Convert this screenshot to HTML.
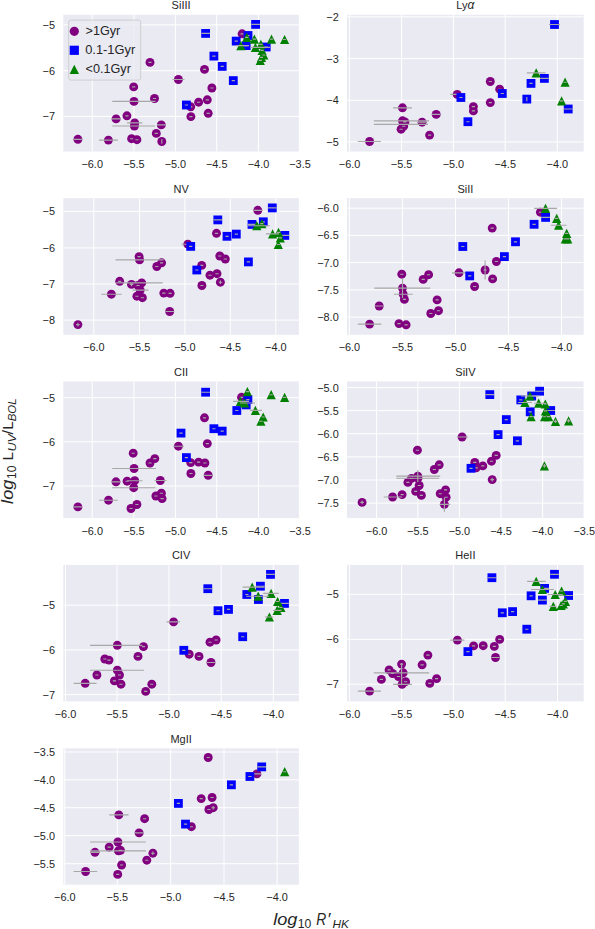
<!DOCTYPE html><html><head><meta charset="utf-8"><title>chart</title><style>html,body{margin:0;padding:0;background:#fff}svg{display:block}text{font-family:"Liberation Sans",sans-serif;fill:#262626}</style></head><body>
<svg width="595" height="929" viewBox="0 0 595 929">
<rect width="595" height="929" fill="#fff"/>
<clipPath id="c0"><rect x="63.3" y="14.8" width="235.6" height="136.7"/></clipPath>
<rect x="63.3" y="14.8" width="235.6" height="136.7" fill="#eaeaf2"/>
<g clip-path="url(#c0)">
<path d="M92.2 14.8V151.5M133.9 14.8V151.5M175.4 14.8V151.5M216.7 14.8V151.5M258.5 14.8V151.5M300.0 14.8V151.5M63.3 24.9H298.9M63.3 70.7H298.9M63.3 116.4H298.9" stroke="#fff" stroke-width="1" fill="none"/>
<g fill="#800080"><circle cx="150.0" cy="62.4" r="4.45"/><circle cx="178.4" cy="79.5" r="4.45"/><circle cx="133.7" cy="86.9" r="4.45"/><circle cx="154.5" cy="98.5" r="4.45"/><circle cx="134.0" cy="101.4" r="4.45"/><circle cx="126.9" cy="115.8" r="4.45"/><circle cx="116.1" cy="118.9" r="4.45"/><circle cx="134.7" cy="122.9" r="4.45"/><circle cx="134.4" cy="126.0" r="4.45"/><circle cx="161.3" cy="124.9" r="4.45"/><circle cx="156.3" cy="133.4" r="4.45"/><circle cx="77.9" cy="139.3" r="4.45"/><circle cx="108.4" cy="140.1" r="4.45"/><circle cx="131.6" cy="138.7" r="4.45"/><circle cx="136.9" cy="139.7" r="4.45"/><circle cx="161.8" cy="141.5" r="4.45"/><circle cx="204.5" cy="69.4" r="4.45"/><circle cx="211.9" cy="88.0" r="4.45"/><circle cx="207.3" cy="99.8" r="4.45"/><circle cx="198.6" cy="102.2" r="4.45"/><circle cx="190.7" cy="106.8" r="4.45"/><circle cx="208.2" cy="113.3" r="4.45"/><circle cx="190.9" cy="116.6" r="4.45"/><circle cx="242.1" cy="33.8" r="4.45"/></g>
<path d="M148.4 62.4H151.6M172.5 79.5H184.5M132.1 86.9H135.3M152.9 98.5H156.1M112.2 101.4H155.5M125.3 115.8H128.5M111.8 118.9H120.4M127.0 122.9H142.3M112.2 126.0H155.1M157.0 124.9H165.6M154.7 133.4H157.9M73.6 139.3H82.2M99.0 140.1H117.8M130.0 138.7H133.2M135.3 139.7H138.5M161.8 139.3V143.7M202.9 69.4H206.1M210.3 88.0H213.5M205.7 99.8H208.9M197.0 102.2H200.2M189.1 106.8H192.3M206.6 113.3H209.8M189.3 116.6H192.5M240.5 33.8H243.7" stroke="#a8a8a8" stroke-width="1.15" fill="none"/>
<g fill="#0000ff"><rect x="201.2" y="29.0" width="8.8" height="8.8"/><rect x="251.2" y="20.0" width="8.8" height="8.8"/><rect x="209.5" y="51.7" width="8.8" height="8.8"/><rect x="217.8" y="62.0" width="8.8" height="8.8"/><rect x="228.9" y="76.2" width="8.8" height="8.8"/><rect x="182.0" y="100.6" width="8.8" height="8.8"/><rect x="231.8" y="36.7" width="8.8" height="8.8"/><rect x="243.6" y="31.1" width="8.8" height="8.8"/><rect x="241.8" y="41.2" width="8.8" height="8.8"/><rect x="261.8" y="42.6" width="8.8" height="8.8"/></g>
<path d="M201.3 33.4H209.9M251.3 24.4H259.9M212.3 56.1H215.5M220.6 66.4H223.8M231.7 80.6H234.9M184.8 105.0H188.0M234.6 41.1H237.8M246.4 35.5H249.6M244.6 45.6H247.8M264.6 47.0H267.8" stroke="#a8a8a8" stroke-width="1.15" fill="none"/>
<g fill="#008000"><path d="M246.8 32.8L251.4 42.0H242.2Z"/><path d="M240.9 41.0L245.5 50.2H236.3Z"/><path d="M254.4 34.5L259.0 43.7H249.8Z"/><path d="M255.4 42.8L260.0 52.0H250.8Z"/><path d="M260.9 39.8L265.5 49.0H256.3Z"/><path d="M262.1 45.7L266.7 54.9H257.5Z"/><path d="M263.8 50.4L268.4 59.6H259.2Z"/><path d="M261.5 52.8L266.1 62.0H256.9Z"/><path d="M260.3 55.7L264.9 64.9H255.7Z"/><path d="M271.5 34.5L276.1 43.7H266.9Z"/><path d="M284.6 34.9L289.2 44.1H280.0Z"/></g>
<path d="M245.2 37.4H248.4M236 45.6H249M252.8 39.1H256.0M250.5 47.4H270M259.3 44.4H262.5M260.5 50.3H263.7M262.2 55.0H265.4M259.9 57.4H263.1M258.7 60.3H261.9M269.9 39.1H273.1M283.0 39.5H286.2" stroke="#a8a8a8" stroke-width="1.15" fill="none"/>
</g>
<text x="181.1" y="9.2" font-size="11" text-anchor="middle">SiIII</text>
<text x="92.2" y="168.1" font-size="10.9" text-anchor="middle">−6.0</text>
<text x="133.9" y="168.1" font-size="10.9" text-anchor="middle">−5.5</text>
<text x="175.4" y="168.1" font-size="10.9" text-anchor="middle">−5.0</text>
<text x="216.7" y="168.1" font-size="10.9" text-anchor="middle">−4.5</text>
<text x="258.5" y="168.1" font-size="10.9" text-anchor="middle">−4.0</text>
<text x="300.0" y="168.1" font-size="10.9" text-anchor="middle">−3.5</text>
<text x="55.0" y="28.9" font-size="10.9" text-anchor="end">−5</text>
<text x="55.0" y="74.7" font-size="10.9" text-anchor="end">−6</text>
<text x="55.0" y="120.4" font-size="10.9" text-anchor="end">−7</text>
<clipPath id="c1"><rect x="347.0" y="14.8" width="236.7" height="136.7"/></clipPath>
<rect x="347.0" y="14.8" width="236.7" height="136.7" fill="#eaeaf2"/>
<g clip-path="url(#c1)">
<path d="M349.6 14.8V151.5M401.6 14.8V151.5M453.4 14.8V151.5M505.2 14.8V151.5M557.3 14.8V151.5M347.0 16.8H583.7M347.0 58.6H583.7M347.0 100.3H583.7M347.0 141.9H583.7" stroke="#fff" stroke-width="1" fill="none"/>
<g fill="#800080"><circle cx="369.6" cy="141.5" r="4.45"/><circle cx="402.5" cy="107.8" r="4.45"/><circle cx="402.5" cy="120.8" r="4.45"/><circle cx="404.9" cy="121.9" r="4.45"/><circle cx="403.2" cy="124.3" r="4.45"/><circle cx="403.7" cy="126.2" r="4.45"/><circle cx="401.1" cy="129.2" r="4.45"/><circle cx="422.1" cy="122.2" r="4.45"/><circle cx="436.2" cy="114.4" r="4.45"/><circle cx="429.6" cy="135.1" r="4.45"/><circle cx="457.2" cy="94.4" r="4.45"/><circle cx="473.4" cy="106.6" r="4.45"/><circle cx="473.4" cy="110.9" r="4.45"/><circle cx="490.3" cy="81.5" r="4.45"/><circle cx="499.7" cy="89.2" r="4.45"/><circle cx="490.3" cy="102.6" r="4.45"/></g>
<path d="M357.8 141.5H380.9M393.1 107.8H411.9M373.8 120.8H429.1M403.3 121.9H406.5M373.8 124.3H428.0M402.1 126.2H405.3M399.5 129.2H402.7M417.8 122.2H426.4M431.9 114.4H440.5M428.0 135.1H431.2M450.3 94.4H464.4M471.8 106.6H475.0M471.8 110.9H475.0M488.7 81.5H491.9M498.1 89.2H501.3M488.7 102.6H491.9" stroke="#a8a8a8" stroke-width="1.15" fill="none"/>
<g fill="#0000ff"><rect x="456.5" y="93.1" width="8.8" height="8.8"/><rect x="463.5" y="117.3" width="8.8" height="8.8"/><rect x="497.9" y="89.1" width="8.8" height="8.8"/><rect x="522.4" y="94.7" width="8.8" height="8.8"/><rect x="526.6" y="79.0" width="8.8" height="8.8"/><rect x="540.0" y="74.0" width="8.8" height="8.8"/><rect x="550.1" y="20.1" width="8.8" height="8.8"/><rect x="563.8" y="104.6" width="8.8" height="8.8"/></g>
<path d="M459.3 97.5H462.5M466.3 121.7H469.5M500.7 93.5H503.9M526.8 96.9V101.3M529.4 83.4H532.6M540.1 78.4H548.7M549 24.5H560M563.9 109.0H572.5" stroke="#a8a8a8" stroke-width="1.15" fill="none"/>
<g fill="#008000"><path d="M536.2 68.2L540.8 77.4H531.6Z"/><path d="M565.1 77.6L569.7 86.8H560.5Z"/><path d="M561.6 96.2L566.2 105.4H557.0Z"/></g>
<path d="M526.8 72.8H545.6M563.5 82.2H566.7M560.0 100.8H563.2" stroke="#a8a8a8" stroke-width="1.15" fill="none"/>
</g>
<text x="465.4" y="9.2" font-size="11" text-anchor="middle">Ly<tspan font-style="italic" font-size="12">α</tspan></text>
<text x="349.6" y="168.1" font-size="10.9" text-anchor="middle">−6.0</text>
<text x="401.6" y="168.1" font-size="10.9" text-anchor="middle">−5.5</text>
<text x="453.4" y="168.1" font-size="10.9" text-anchor="middle">−5.0</text>
<text x="505.2" y="168.1" font-size="10.9" text-anchor="middle">−4.5</text>
<text x="557.3" y="168.1" font-size="10.9" text-anchor="middle">−4.0</text>
<text x="338.7" y="20.8" font-size="10.9" text-anchor="end">−2</text>
<text x="338.7" y="62.6" font-size="10.9" text-anchor="end">−3</text>
<text x="338.7" y="104.3" font-size="10.9" text-anchor="end">−4</text>
<text x="338.7" y="145.9" font-size="10.9" text-anchor="end">−5</text>
<clipPath id="c2"><rect x="63.3" y="198.2" width="235.6" height="136.6"/></clipPath>
<rect x="63.3" y="198.2" width="235.6" height="136.6" fill="#eaeaf2"/>
<g clip-path="url(#c2)">
<path d="M93.8 198.2V334.8M139.5 198.2V334.8M184.9 198.2V334.8M230.3 198.2V334.8M275.8 198.2V334.8M63.3 211.4H298.9M63.3 247.9H298.9M63.3 284.0H298.9M63.3 320.1H298.9" stroke="#fff" stroke-width="1" fill="none"/>
<g fill="#800080"><circle cx="77.9" cy="324.6" r="4.45"/><circle cx="111.4" cy="294.2" r="4.45"/><circle cx="119.7" cy="281.3" r="4.45"/><circle cx="131.5" cy="284.4" r="4.45"/><circle cx="139.1" cy="256.6" r="4.45"/><circle cx="139.6" cy="259.9" r="4.45"/><circle cx="161.6" cy="262.8" r="4.45"/><circle cx="156.8" cy="266.5" r="4.45"/><circle cx="141.7" cy="282.9" r="4.45"/><circle cx="138.0" cy="285.5" r="4.45"/><circle cx="140.2" cy="290.1" r="4.45"/><circle cx="136.9" cy="296.2" r="4.45"/><circle cx="142.4" cy="297.7" r="4.45"/><circle cx="163.8" cy="293.1" r="4.45"/><circle cx="170.1" cy="293.3" r="4.45"/><circle cx="169.7" cy="311.5" r="4.45"/><circle cx="187.8" cy="244.2" r="4.45"/><circle cx="216.5" cy="233.3" r="4.45"/><circle cx="257.8" cy="210.3" r="4.45"/><circle cx="219.8" cy="256.0" r="4.45"/><circle cx="225.3" cy="259.0" r="4.45"/><circle cx="201.7" cy="265.4" r="4.45"/><circle cx="210.0" cy="275.2" r="4.45"/><circle cx="217.0" cy="273.7" r="4.45"/><circle cx="220.4" cy="282.2" r="4.45"/><circle cx="201.9" cy="285.5" r="4.45"/></g>
<path d="M76.1 324.6H79.7M77.9 322.8V326.4M101.3 294.2H121.6M118.1 281.3H121.3M129.7 284.4H133.3M131.5 282.6V286.2M137.5 256.6H140.7M115.5 259.9H163.6M160.0 262.8H163.2M155.2 266.5H158.4M116.2 282.9H162.7M136.4 285.5H139.6M132.6 290.1H148.5M135.3 296.2H138.5M140.8 297.7H144.0M162.2 293.1H165.4M168.5 293.3H171.7M165.4 311.5H174.0M181.5 244.2H193.5M214.9 233.3H218.1M253.5 210.3H262.1M218.2 256.0H221.4M223.7 259.0H226.9M200.1 265.4H203.3M208.4 275.2H211.6M215.4 273.7H218.6M218.6 282.2H222.2M220.4 280.4V284.0M200.3 285.5H203.5" stroke="#a8a8a8" stroke-width="1.15" fill="none"/>
<g fill="#0000ff"><rect x="267.9" y="203.5" width="8.8" height="8.8"/><rect x="213.4" y="215.5" width="8.8" height="8.8"/><rect x="186.3" y="242.0" width="8.8" height="8.8"/><rect x="222.6" y="231.9" width="8.8" height="8.8"/><rect x="231.9" y="229.7" width="8.8" height="8.8"/><rect x="244.0" y="257.5" width="8.8" height="8.8"/><rect x="192.4" y="265.6" width="8.8" height="8.8"/><rect x="247.6" y="220.0" width="8.8" height="8.8"/><rect x="258.9" y="217.4" width="8.8" height="8.8"/><rect x="280.4" y="231.0" width="8.8" height="8.8"/></g>
<path d="M268.0 207.9H276.6M213.5 219.9H222.1M189.1 246.4H192.3M225.4 236.3H228.6M234.7 234.1H237.9M246.8 261.9H250.0M195.2 270.0H198.4M247.7 224.4H256.3M261.7 221.8H264.9M280.5 235.4H289.1" stroke="#a8a8a8" stroke-width="1.15" fill="none"/>
<g fill="#008000"><path d="M256.8 221.1L261.4 230.3H252.2Z"/><path d="M261.8 219.0L266.4 228.2H257.2Z"/><path d="M272.6 229.2L277.2 238.4H268.0Z"/><path d="M278.5 227.7L283.1 236.9H273.9Z"/><path d="M280.3 233.3L284.9 242.5H275.7Z"/><path d="M278.3 239.9L282.9 249.1H273.7Z"/></g>
<path d="M248 225.7H270M260.2 223.6H263.4M266 233.8H279M276.9 232.3H280.1M278.7 237.9H281.9M276.7 244.5H279.9" stroke="#a8a8a8" stroke-width="1.15" fill="none"/>
</g>
<text x="181.1" y="192.6" font-size="11" text-anchor="middle">NV</text>
<text x="93.8" y="351.4" font-size="10.9" text-anchor="middle">−6.0</text>
<text x="139.5" y="351.4" font-size="10.9" text-anchor="middle">−5.5</text>
<text x="184.9" y="351.4" font-size="10.9" text-anchor="middle">−5.0</text>
<text x="230.3" y="351.4" font-size="10.9" text-anchor="middle">−4.5</text>
<text x="275.8" y="351.4" font-size="10.9" text-anchor="middle">−4.0</text>
<text x="55.0" y="215.4" font-size="10.9" text-anchor="end">−5</text>
<text x="55.0" y="251.9" font-size="10.9" text-anchor="end">−6</text>
<text x="55.0" y="288.0" font-size="10.9" text-anchor="end">−7</text>
<text x="55.0" y="324.1" font-size="10.9" text-anchor="end">−8</text>
<clipPath id="c3"><rect x="347.0" y="198.2" width="236.7" height="136.6"/></clipPath>
<rect x="347.0" y="198.2" width="236.7" height="136.6" fill="#eaeaf2"/>
<g clip-path="url(#c3)">
<path d="M349.4 198.2V334.8M402.4 198.2V334.8M455.5 198.2V334.8M508.5 198.2V334.8M561.5 198.2V334.8M347.0 208.2H583.7M347.0 235.4H583.7M347.0 262.6H583.7M347.0 289.9H583.7M347.0 317.1H583.7" stroke="#fff" stroke-width="1" fill="none"/>
<g fill="#800080"><circle cx="369.6" cy="324.1" r="4.45"/><circle cx="379.2" cy="306.0" r="4.45"/><circle cx="401.8" cy="274.2" r="4.45"/><circle cx="402.5" cy="288.1" r="4.45"/><circle cx="403.2" cy="294.2" r="4.45"/><circle cx="404.4" cy="299.4" r="4.45"/><circle cx="399.0" cy="323.6" r="4.45"/><circle cx="406.1" cy="324.8" r="4.45"/><circle cx="423.2" cy="279.4" r="4.45"/><circle cx="428.6" cy="274.7" r="4.45"/><circle cx="437.1" cy="299.9" r="4.45"/><circle cx="438.5" cy="310.7" r="4.45"/><circle cx="430.8" cy="313.5" r="4.45"/><circle cx="459.0" cy="272.8" r="4.45"/><circle cx="474.6" cy="286.5" r="4.45"/><circle cx="492.2" cy="228.1" r="4.45"/><circle cx="496.4" cy="261.5" r="4.45"/><circle cx="485.1" cy="270.0" r="4.45"/><circle cx="492.6" cy="278.9" r="4.45"/><circle cx="540.4" cy="212.2" r="4.45"/></g>
<path d="M357.8 324.1H381.4M374.9 306.0H383.5M400.2 274.2H403.4M374.3 288.1H430.3M393.8 294.2H412.6M402.8 299.4H406.0M397.4 323.6H400.6M404.5 324.8H407.7M421.6 279.4H424.8M427.0 274.7H430.2M435.5 299.9H438.7M436.9 310.7H440.1M429.2 313.5H432.4M452 272.8H465.5M473.0 286.5H476.2M490.6 228.1H493.8M494.8 261.5H498.0M483.5 270.0H486.7M491.0 278.9H494.2M538.8 212.2H542.0M402.5 278.5V298.0M485.1 260.6V279.4" stroke="#a8a8a8" stroke-width="1.15" fill="none"/>
<g fill="#0000ff"><rect x="458.4" y="242.1" width="8.8" height="8.8"/><rect x="465.3" y="271.5" width="8.8" height="8.8"/><rect x="500.0" y="252.2" width="8.8" height="8.8"/><rect x="511.1" y="237.4" width="8.8" height="8.8"/><rect x="529.7" y="219.9" width="8.8" height="8.8"/><rect x="541.2" y="213.0" width="8.8" height="8.8"/></g>
<path d="M461.2 246.5H464.4M468.1 275.9H471.3M502.8 256.6H506.0M513.9 241.8H517.1M532.5 224.3H535.7M541.3 217.4H549.9" stroke="#a8a8a8" stroke-width="1.15" fill="none"/>
<g fill="#008000"><path d="M545.5 203.7L550.1 212.9H540.9Z"/><path d="M556.7 213.8L561.3 223.0H552.1Z"/><path d="M558.6 220.6L563.2 229.8H554.0Z"/><path d="M566.7 228.7L571.3 237.9H562.1Z"/><path d="M565.3 234.3L569.9 243.5H560.7Z"/><path d="M567.7 234.3L572.3 243.5H563.1Z"/></g>
<path d="M534.1 208.3H557.1M555.1 218.4H558.3M550.8 225.2H566.5M565.1 233.3H568.3M563.7 238.9H566.9M566.1 238.9H569.3" stroke="#a8a8a8" stroke-width="1.15" fill="none"/>
</g>
<text x="465.4" y="192.6" font-size="11" text-anchor="middle">SiII</text>
<text x="349.4" y="351.4" font-size="10.9" text-anchor="middle">−6.0</text>
<text x="402.4" y="351.4" font-size="10.9" text-anchor="middle">−5.5</text>
<text x="455.5" y="351.4" font-size="10.9" text-anchor="middle">−5.0</text>
<text x="508.5" y="351.4" font-size="10.9" text-anchor="middle">−4.5</text>
<text x="561.5" y="351.4" font-size="10.9" text-anchor="middle">−4.0</text>
<text x="338.7" y="212.2" font-size="10.9" text-anchor="end">−6.0</text>
<text x="338.7" y="239.4" font-size="10.9" text-anchor="end">−6.5</text>
<text x="338.7" y="266.6" font-size="10.9" text-anchor="end">−7.0</text>
<text x="338.7" y="293.9" font-size="10.9" text-anchor="end">−7.5</text>
<text x="338.7" y="321.1" font-size="10.9" text-anchor="end">−8.0</text>
<clipPath id="c4"><rect x="63.3" y="381.5" width="235.6" height="136.6"/></clipPath>
<rect x="63.3" y="381.5" width="235.6" height="136.6" fill="#eaeaf2"/>
<g clip-path="url(#c4)">
<path d="M92.2 381.5V518.1M133.9 381.5V518.1M175.4 381.5V518.1M216.7 381.5V518.1M258.5 381.5V518.1M300.0 381.5V518.1M63.3 397.7H298.9M63.3 441.8H298.9M63.3 486.0H298.9" stroke="#fff" stroke-width="1" fill="none"/>
<g fill="#800080"><circle cx="77.9" cy="506.9" r="4.45"/><circle cx="108.5" cy="500.2" r="4.45"/><circle cx="116.0" cy="481.8" r="4.45"/><circle cx="127.1" cy="481.2" r="4.45"/><circle cx="134.7" cy="480.7" r="4.45"/><circle cx="133.7" cy="487.7" r="4.45"/><circle cx="134.1" cy="468.5" r="4.45"/><circle cx="133.2" cy="453.2" r="4.45"/><circle cx="154.8" cy="458.6" r="4.45"/><circle cx="150.0" cy="463.0" r="4.45"/><circle cx="160.3" cy="480.5" r="4.45"/><circle cx="161.4" cy="493.2" r="4.45"/><circle cx="155.9" cy="496.0" r="4.45"/><circle cx="162.1" cy="498.6" r="4.45"/><circle cx="136.9" cy="504.5" r="4.45"/><circle cx="131.0" cy="508.5" r="4.45"/><circle cx="178.4" cy="446.2" r="4.45"/><circle cx="204.5" cy="417.8" r="4.45"/><circle cx="207.3" cy="443.6" r="4.45"/><circle cx="190.7" cy="462.6" r="4.45"/><circle cx="198.6" cy="462.1" r="4.45"/><circle cx="204.9" cy="463.0" r="4.45"/><circle cx="190.9" cy="473.5" r="4.45"/><circle cx="208.2" cy="475.3" r="4.45"/><circle cx="241.5" cy="397.3" r="4.45"/></g>
<path d="M73.6 506.9H82.2M99.1 500.2H117.9M111.7 481.8H120.3M125.5 481.2H128.7M127.1 480.7H142.4M112.2 487.7H155.5M112.2 468.5H155.9M131.6 453.2H134.8M153.2 458.6H156.4M148.4 463.0H151.6M154.5 480.5H166.5M159.8 493.2H163.0M154.3 496.0H157.5M160.5 498.6H163.7M135.3 504.5H138.5M129.4 508.5H132.6M173 446.2H184M202.9 417.8H206.1M205.7 443.6H208.9M189.1 462.6H192.3M197.0 462.1H200.2M203.3 463.0H206.5M189.3 473.5H192.5M203.9 475.3H212.5M239.9 397.3H243.1" stroke="#a8a8a8" stroke-width="1.15" fill="none"/>
<g fill="#0000ff"><rect x="201.2" y="387.8" width="8.8" height="8.8"/><rect x="176.6" y="428.7" width="8.8" height="8.8"/><rect x="209.5" y="424.3" width="8.8" height="8.8"/><rect x="217.8" y="426.7" width="8.8" height="8.8"/><rect x="182.0" y="453.2" width="8.8" height="8.8"/><rect x="232.4" y="406.1" width="8.8" height="8.8"/><rect x="243.5" y="395.2" width="8.8" height="8.8"/><rect x="241.8" y="400.5" width="8.8" height="8.8"/></g>
<path d="M201.3 392.2H209.9M179.4 433.1H182.6M212.3 428.7H215.5M220.6 431.1H223.8M184.8 457.6H188.0M235.2 410.5H238.4M246.3 399.6H249.5M244.6 404.9H247.8" stroke="#a8a8a8" stroke-width="1.15" fill="none"/>
<g fill="#008000"><path d="M247.4 387.0L252.0 396.2H242.8Z"/><path d="M240.4 396.7L245.0 405.9H235.8Z"/><path d="M244.6 398.4L249.2 407.6H240.0Z"/><path d="M255.4 405.7L260.0 414.9H250.8Z"/><path d="M263.2 412.4L267.8 421.6H258.6Z"/><path d="M260.9 416.6L265.5 425.8H256.3Z"/><path d="M271.2 390.1L275.8 399.3H266.6Z"/><path d="M284.6 392.8L289.2 402.0H280.0Z"/></g>
<path d="M245.8 391.6H249.0M233 401.3H249M240 403.0H255M250 410.3H262M261.6 417.0H264.8M259.3 421.2H262.5M269.6 394.7H272.8M283.0 397.4H286.2" stroke="#a8a8a8" stroke-width="1.15" fill="none"/>
</g>
<text x="181.1" y="375.9" font-size="11" text-anchor="middle">CII</text>
<text x="92.2" y="534.7" font-size="10.9" text-anchor="middle">−6.0</text>
<text x="133.9" y="534.7" font-size="10.9" text-anchor="middle">−5.5</text>
<text x="175.4" y="534.7" font-size="10.9" text-anchor="middle">−5.0</text>
<text x="216.7" y="534.7" font-size="10.9" text-anchor="middle">−4.5</text>
<text x="258.5" y="534.7" font-size="10.9" text-anchor="middle">−4.0</text>
<text x="300.0" y="534.7" font-size="10.9" text-anchor="middle">−3.5</text>
<text x="55.0" y="401.7" font-size="10.9" text-anchor="end">−5</text>
<text x="55.0" y="445.8" font-size="10.9" text-anchor="end">−6</text>
<text x="55.0" y="490.0" font-size="10.9" text-anchor="end">−7</text>
<clipPath id="c5"><rect x="347.0" y="381.5" width="236.7" height="136.6"/></clipPath>
<rect x="347.0" y="381.5" width="236.7" height="136.6" fill="#eaeaf2"/>
<g clip-path="url(#c5)">
<path d="M376.6 381.5V518.1M417.8 381.5V518.1M459.4 381.5V518.1M501.0 381.5V518.1M542.6 381.5V518.1M584.2 381.5V518.1M347.0 387.6H583.7M347.0 410.6H583.7M347.0 433.7H583.7M347.0 456.9H583.7M347.0 480.0H583.7M347.0 503.1H583.7" stroke="#fff" stroke-width="1" fill="none"/>
<g fill="#800080"><circle cx="362.1" cy="502.4" r="4.45"/><circle cx="392.6" cy="497.0" r="4.45"/><circle cx="402.1" cy="494.6" r="4.45"/><circle cx="407.9" cy="482.4" r="4.45"/><circle cx="411.5" cy="478.4" r="4.45"/><circle cx="417.8" cy="476.1" r="4.45"/><circle cx="418.0" cy="478.2" r="4.45"/><circle cx="419.2" cy="485.5" r="4.45"/><circle cx="415.7" cy="491.4" r="4.45"/><circle cx="421.4" cy="495.4" r="4.45"/><circle cx="417.4" cy="450.2" r="4.45"/><circle cx="439.2" cy="464.8" r="4.45"/><circle cx="434.3" cy="469.5" r="4.45"/><circle cx="445.6" cy="489.9" r="4.45"/><circle cx="440.2" cy="493.7" r="4.45"/><circle cx="446.1" cy="497.2" r="4.45"/><circle cx="444.4" cy="504.3" r="4.45"/><circle cx="462.1" cy="437.0" r="4.45"/><circle cx="474.8" cy="462.4" r="4.45"/><circle cx="476.2" cy="467.8" r="4.45"/><circle cx="482.8" cy="465.9" r="4.45"/><circle cx="491.5" cy="461.2" r="4.45"/><circle cx="496.2" cy="455.4" r="4.45"/><circle cx="492.2" cy="479.6" r="4.45"/></g>
<path d="M360.3 502.4H363.9M362.1 500.6V504.2M383.7 497.0H402.1M400.5 494.6H403.7M406.3 482.4H409.5M409.9 478.4H413.1M396.2 476.1H440.2M396.2 478.2H439.2M417.6 485.5H420.8M414.1 491.4H417.3M419.8 495.4H423.0M415.8 450.2H419.0M437.6 464.8H440.8M432.7 469.5H435.9M444.0 489.9H447.2M438.6 493.7H441.8M444.5 497.2H447.7M439.7 504.3H450.3M456.9 437.0H468M473.2 462.4H476.4M474.6 467.8H477.8M481.2 465.9H484.4M489.9 461.2H493.1M494.6 455.4H497.8M490.4 479.6H494.0M492.2 477.8V481.4M444.4 497.7V511.8M417.8 470V482" stroke="#a8a8a8" stroke-width="1.15" fill="none"/>
<g fill="#0000ff"><rect x="466.6" y="463.9" width="8.8" height="8.8"/><rect x="485.4" y="390.2" width="8.8" height="8.8"/><rect x="501.9" y="415.2" width="8.8" height="8.8"/><rect x="493.7" y="430.2" width="8.8" height="8.8"/><rect x="513.0" y="436.4" width="8.8" height="8.8"/><rect x="516.4" y="395.5" width="8.8" height="8.8"/><rect x="527.3" y="391.6" width="8.8" height="8.8"/><rect x="535.2" y="386.8" width="8.8" height="8.8"/><rect x="525.8" y="407.4" width="8.8" height="8.8"/><rect x="546.3" y="406.1" width="8.8" height="8.8"/></g>
<path d="M469.4 468.3H472.6M485.5 394.6H494.1M504.7 419.6H507.9M496.5 434.6H499.7M515.8 440.8H519.0M519.2 399.9H522.4M527.4 396.0H536.0M535.3 391.2H543.9M528.6 411.8H531.8M546.4 410.5H555.0" stroke="#a8a8a8" stroke-width="1.15" fill="none"/>
<g fill="#008000"><path d="M530.0 391.4L534.6 400.6H525.4Z"/><path d="M524.9 397.9L529.5 407.1H520.3Z"/><path d="M538.7 398.6L543.3 407.8H534.1Z"/><path d="M545.3 399.4L549.9 408.6H540.7Z"/><path d="M545.5 406.2L550.1 415.4H540.9Z"/><path d="M531.1 412.0L535.7 421.2H526.5Z"/><path d="M544.6 412.1L549.2 421.3H540.0Z"/><path d="M548.6 412.0L553.2 421.2H544.0Z"/><path d="M555.5 416.7L560.1 425.9H550.9Z"/><path d="M568.6 416.2L573.2 425.4H564.0Z"/><path d="M544.4 461.3L549.0 470.5H539.8Z"/></g>
<path d="M521 396.0H539M518 402.5H532M534 403.2H546M543.7 404.0H546.9M543.9 410.8H547.1M529.5 416.6H532.7M543.0 416.7H546.2M547.0 416.6H550.2M553.7 421.3H557.3M555.5 419.5V423.1M566.8 420.8H570.4M568.6 419.0V422.6M542.6 465.9H546.2M544.4 464.1V467.7" stroke="#a8a8a8" stroke-width="1.15" fill="none"/>
</g>
<text x="465.4" y="375.9" font-size="11" text-anchor="middle">SiIV</text>
<text x="376.6" y="534.7" font-size="10.9" text-anchor="middle">−6.0</text>
<text x="417.8" y="534.7" font-size="10.9" text-anchor="middle">−5.5</text>
<text x="459.4" y="534.7" font-size="10.9" text-anchor="middle">−5.0</text>
<text x="501.0" y="534.7" font-size="10.9" text-anchor="middle">−4.5</text>
<text x="542.6" y="534.7" font-size="10.9" text-anchor="middle">−4.0</text>
<text x="584.2" y="534.7" font-size="10.9" text-anchor="middle">−3.5</text>
<text x="338.7" y="391.6" font-size="10.9" text-anchor="end">−5.0</text>
<text x="338.7" y="414.6" font-size="10.9" text-anchor="end">−5.5</text>
<text x="338.7" y="437.7" font-size="10.9" text-anchor="end">−6.0</text>
<text x="338.7" y="460.9" font-size="10.9" text-anchor="end">−6.5</text>
<text x="338.7" y="484.0" font-size="10.9" text-anchor="end">−7.0</text>
<text x="338.7" y="507.1" font-size="10.9" text-anchor="end">−7.5</text>
<clipPath id="c6"><rect x="63.3" y="564.9" width="235.6" height="136.5"/></clipPath>
<rect x="63.3" y="564.9" width="235.6" height="136.5" fill="#eaeaf2"/>
<g clip-path="url(#c6)">
<path d="M65.5 564.9V701.4M117.0 564.9V701.4M169.0 564.9V701.4M221.2 564.9V701.4M273.4 564.9V701.4M63.3 605.2H298.9M63.3 649.9H298.9M63.3 694.6H298.9" stroke="#fff" stroke-width="1" fill="none"/>
<g fill="#800080"><circle cx="85.2" cy="683.3" r="4.45"/><circle cx="96.9" cy="675.0" r="4.45"/><circle cx="104.8" cy="659.0" r="4.45"/><circle cx="109.0" cy="660.1" r="4.45"/><circle cx="117.3" cy="645.3" r="4.45"/><circle cx="143.5" cy="646.6" r="4.45"/><circle cx="138.0" cy="656.4" r="4.45"/><circle cx="117.3" cy="670.2" r="4.45"/><circle cx="119.5" cy="675.0" r="4.45"/><circle cx="114.4" cy="680.9" r="4.45"/><circle cx="121.0" cy="684.2" r="4.45"/><circle cx="151.8" cy="684.2" r="4.45"/><circle cx="145.7" cy="691.4" r="4.45"/><circle cx="173.6" cy="621.9" r="4.45"/><circle cx="189.2" cy="654.2" r="4.45"/><circle cx="199.0" cy="656.4" r="4.45"/><circle cx="210.0" cy="642.2" r="4.45"/><circle cx="216.1" cy="640.0" r="4.45"/><circle cx="211.0" cy="662.5" r="4.45"/></g>
<path d="M73.6 683.3H96.5M95.3 675.0H98.5M103.2 659.0H106.4M107.4 660.1H110.6M90.0 645.3H142.4M141.9 646.6H145.1M136.4 656.4H139.6M90.0 670.2H144.1M117.9 675.0H121.1M112.8 680.9H116.0M119.4 684.2H122.6M150.2 684.2H153.4M144.1 691.4H147.3M166.5 621.9H180M187.6 654.2H190.8M197.4 656.4H200.6M208.4 642.2H211.6M214.5 640.0H217.7M206.7 662.5H215.3" stroke="#a8a8a8" stroke-width="1.15" fill="none"/>
<g fill="#0000ff"><rect x="179.4" y="645.9" width="8.8" height="8.8"/><rect x="203.4" y="584.3" width="8.8" height="8.8"/><rect x="213.6" y="606.3" width="8.8" height="8.8"/><rect x="224.1" y="605.0" width="8.8" height="8.8"/><rect x="238.3" y="632.3" width="8.8" height="8.8"/><rect x="242.4" y="590.1" width="8.8" height="8.8"/><rect x="256.0" y="581.8" width="8.8" height="8.8"/><rect x="266.1" y="570.0" width="8.8" height="8.8"/><rect x="254.0" y="595.1" width="8.8" height="8.8"/><rect x="280.1" y="599.0" width="8.8" height="8.8"/></g>
<path d="M182.2 650.3H185.4M203.5 588.7H212.1M216.4 610.7H219.6M226.9 609.4H230.1M241.1 636.7H244.3M245.2 594.5H248.4M256.1 586.2H264.7M266.2 574.4H274.8M254.1 599.5H262.7M280.2 603.4H288.8" stroke="#a8a8a8" stroke-width="1.15" fill="none"/>
<g fill="#008000"><path d="M252.2 582.5L256.8 591.7H247.6Z"/><path d="M258.2 591.6L262.8 600.8H253.6Z"/><path d="M271.1 588.8L275.7 598.0H266.5Z"/><path d="M277.6 596.9L282.2 606.1H273.0Z"/><path d="M280.9 602.9L285.5 612.1H276.3Z"/><path d="M277.2 605.8L281.8 615.0H272.6Z"/><path d="M269.4 612.4L274.0 621.6H264.8Z"/></g>
<path d="M242.6 587.1H264.4M246.2 596.2H269.1M263.2 593.4H278.8M276.0 601.5H279.2M279.3 607.5H282.5M273 610.4H281.5M265 617.0H273.5" stroke="#a8a8a8" stroke-width="1.15" fill="none"/>
</g>
<text x="181.1" y="559.3" font-size="11" text-anchor="middle">CIV</text>
<text x="65.5" y="718.0" font-size="10.9" text-anchor="middle">−6.0</text>
<text x="117.0" y="718.0" font-size="10.9" text-anchor="middle">−5.5</text>
<text x="169.0" y="718.0" font-size="10.9" text-anchor="middle">−5.0</text>
<text x="221.2" y="718.0" font-size="10.9" text-anchor="middle">−4.5</text>
<text x="273.4" y="718.0" font-size="10.9" text-anchor="middle">−4.0</text>
<text x="55.0" y="609.2" font-size="10.9" text-anchor="end">−5</text>
<text x="55.0" y="653.9" font-size="10.9" text-anchor="end">−6</text>
<text x="55.0" y="698.6" font-size="10.9" text-anchor="end">−7</text>
<clipPath id="c7"><rect x="347.0" y="564.9" width="236.7" height="136.5"/></clipPath>
<rect x="347.0" y="564.9" width="236.7" height="136.5" fill="#eaeaf2"/>
<g clip-path="url(#c7)">
<path d="M349.6 564.9V701.4M401.6 564.9V701.4M453.4 564.9V701.4M505.2 564.9V701.4M557.5 564.9V701.4M347.0 594.3H583.7M347.0 639.4H583.7M347.0 684.2H583.7" stroke="#fff" stroke-width="1" fill="none"/>
<g fill="#800080"><circle cx="369.6" cy="691.1" r="4.45"/><circle cx="381.4" cy="679.4" r="4.45"/><circle cx="389.1" cy="669.9" r="4.45"/><circle cx="392.6" cy="673.5" r="4.45"/><circle cx="398.5" cy="676.5" r="4.45"/><circle cx="401.6" cy="664.1" r="4.45"/><circle cx="403.2" cy="672.8" r="4.45"/><circle cx="402.1" cy="684.3" r="4.45"/><circle cx="405.6" cy="681.7" r="4.45"/><circle cx="422.1" cy="664.8" r="4.45"/><circle cx="427.9" cy="655.1" r="4.45"/><circle cx="429.8" cy="683.4" r="4.45"/><circle cx="436.6" cy="678.6" r="4.45"/><circle cx="457.4" cy="640.1" r="4.45"/><circle cx="473.6" cy="645.9" r="4.45"/><circle cx="483.2" cy="645.7" r="4.45"/><circle cx="494.3" cy="646.4" r="4.45"/><circle cx="499.7" cy="639.4" r="4.45"/><circle cx="495.5" cy="657.5" r="4.45"/></g>
<path d="M357.8 691.1H380.9M379.8 679.4H383.0M387.5 669.9H390.7M391.0 673.5H394.2M396.9 676.5H400.1M400.0 664.1H403.2M373.8 672.8H429.1M393.1 684.3H411.9M404.0 681.7H407.2M420.5 664.8H423.7M426.3 655.1H429.5M428.2 683.4H431.4M435.0 678.6H438.2M450.3 640.1H464.4M472.0 645.9H475.2M481.6 645.7H484.8M492.7 646.4H495.9M498.1 639.4H501.3M491.2 657.5H499.8M401.6 662.9V685.2" stroke="#a8a8a8" stroke-width="1.15" fill="none"/>
<g fill="#0000ff"><rect x="463.5" y="647.2" width="8.8" height="8.8"/><rect x="487.5" y="573.3" width="8.8" height="8.8"/><rect x="497.9" y="608.4" width="8.8" height="8.8"/><rect x="508.2" y="607.2" width="8.8" height="8.8"/><rect x="522.4" y="624.8" width="8.8" height="8.8"/><rect x="526.7" y="591.4" width="8.8" height="8.8"/><rect x="540.2" y="584.0" width="8.8" height="8.8"/><rect x="538.0" y="595.7" width="8.8" height="8.8"/><rect x="550.1" y="569.9" width="8.8" height="8.8"/><rect x="564.2" y="591.1" width="8.8" height="8.8"/></g>
<path d="M466.3 651.6H469.5M487.6 577.7H496.2M500.7 612.8H503.9M511.0 611.6H514.2M525.2 629.2H528.4M529.5 595.8H532.7M540.3 588.4H548.9M538.1 600.1H546.7M550.2 574.3H558.8M564.3 595.5H572.9" stroke="#a8a8a8" stroke-width="1.15" fill="none"/>
<g fill="#008000"><path d="M536.2 576.8L540.8 586.0H531.6Z"/><path d="M542.4 584.9L547.0 594.1H537.8Z"/><path d="M555.2 589.9L559.8 599.1H550.6Z"/><path d="M561.6 586.4L566.2 595.6H557.0Z"/><path d="M553.3 601.8L557.9 611.0H548.7Z"/><path d="M565.4 596.8L570.0 606.0H560.8Z"/><path d="M563.3 599.2L567.9 608.4H558.7Z"/><path d="M561.1 600.9L565.7 610.1H556.5Z"/></g>
<path d="M527.1 581.4H545.6M530.9 589.5H553.9M547.6 594.5H562.9M560.0 591.0H563.2M549.5 606.4H556.5M563.8 601.4H567.0M561.7 603.8H564.9M559.5 605.5H562.7" stroke="#a8a8a8" stroke-width="1.15" fill="none"/>
</g>
<text x="465.4" y="559.3" font-size="11" text-anchor="middle">HeII</text>
<text x="349.6" y="718.0" font-size="10.9" text-anchor="middle">−6.0</text>
<text x="401.6" y="718.0" font-size="10.9" text-anchor="middle">−5.5</text>
<text x="453.4" y="718.0" font-size="10.9" text-anchor="middle">−5.0</text>
<text x="505.2" y="718.0" font-size="10.9" text-anchor="middle">−4.5</text>
<text x="557.5" y="718.0" font-size="10.9" text-anchor="middle">−4.0</text>
<text x="338.7" y="598.3" font-size="10.9" text-anchor="end">−5</text>
<text x="338.7" y="643.4" font-size="10.9" text-anchor="end">−6</text>
<text x="338.7" y="688.2" font-size="10.9" text-anchor="end">−7</text>
<clipPath id="c8"><rect x="63.3" y="748.3" width="235.6" height="136.4"/></clipPath>
<rect x="63.3" y="748.3" width="235.6" height="136.4" fill="#eaeaf2"/>
<g clip-path="url(#c8)">
<path d="M64.8 748.3V884.7M117.3 748.3V884.7M170.6 748.3V884.7M224.0 748.3V884.7M277.1 748.3V884.7M63.3 752.0H298.9M63.3 779.8H298.9M63.3 807.7H298.9M63.3 835.6H298.9M63.3 863.7H298.9" stroke="#fff" stroke-width="1" fill="none"/>
<g fill="#800080"><circle cx="85.6" cy="871.5" r="4.45"/><circle cx="95.0" cy="852.3" r="4.45"/><circle cx="109.2" cy="847.1" r="4.45"/><circle cx="117.9" cy="842.0" r="4.45"/><circle cx="118.4" cy="850.8" r="4.45"/><circle cx="120.5" cy="850.3" r="4.45"/><circle cx="118.8" cy="814.9" r="4.45"/><circle cx="144.6" cy="818.7" r="4.45"/><circle cx="139.1" cy="832.9" r="4.45"/><circle cx="152.9" cy="853.2" r="4.45"/><circle cx="146.8" cy="860.2" r="4.45"/><circle cx="121.6" cy="865.0" r="4.45"/><circle cx="117.7" cy="874.4" r="4.45"/><circle cx="208.2" cy="757.5" r="4.45"/><circle cx="201.2" cy="798.6" r="4.45"/><circle cx="212.1" cy="797.5" r="4.45"/><circle cx="208.9" cy="809.5" r="4.45"/><circle cx="213.2" cy="807.7" r="4.45"/><circle cx="191.4" cy="826.7" r="4.45"/><circle cx="256.9" cy="773.9" r="4.45"/></g>
<path d="M73.6 871.5H97.2M90.7 852.3H99.3M107.6 847.1H110.8M90.0 842.0H145.7M90.0 850.8H146.1M118.9 850.3H122.1M109.2 814.9H128.6M143.0 818.7H146.2M134.8 832.9H143.4M151.1 853.2H154.7M152.9 851.4V855.0M145.2 860.2H148.4M120.0 865.0H123.2M116.1 874.4H119.3M206.6 757.5H209.8M199.6 798.6H202.8M210.5 797.5H213.7M207.3 809.5H210.5M211.4 807.7H215.0M213.2 805.9V809.5M189.8 826.7H193.0M252.6 773.9H261.2" stroke="#a8a8a8" stroke-width="1.15" fill="none"/>
<g fill="#0000ff"><rect x="174.0" y="799.0" width="8.8" height="8.8"/><rect x="181.1" y="819.7" width="8.8" height="8.8"/><rect x="227.0" y="780.4" width="8.8" height="8.8"/><rect x="245.5" y="772.1" width="8.8" height="8.8"/><rect x="257.3" y="762.5" width="8.8" height="8.8"/></g>
<path d="M176.8 803.4H180.0M183.9 824.1H187.1M229.8 784.8H233.0M248.3 776.5H251.5M257.4 766.9H266.0" stroke="#a8a8a8" stroke-width="1.15" fill="none"/>
<g fill="#008000"><path d="M284.7 767.1L289.3 776.3H280.1Z"/></g>
<path d="M283.1 771.7H286.3" stroke="#a8a8a8" stroke-width="1.15" fill="none"/>
</g>
<text x="181.1" y="742.7" font-size="11" text-anchor="middle">MgII</text>
<text x="64.8" y="901.3" font-size="10.9" text-anchor="middle">−6.0</text>
<text x="117.3" y="901.3" font-size="10.9" text-anchor="middle">−5.5</text>
<text x="170.6" y="901.3" font-size="10.9" text-anchor="middle">−5.0</text>
<text x="224.0" y="901.3" font-size="10.9" text-anchor="middle">−4.5</text>
<text x="277.1" y="901.3" font-size="10.9" text-anchor="middle">−4.0</text>
<text x="55.0" y="756.0" font-size="10.9" text-anchor="end">−3.5</text>
<text x="55.0" y="783.8" font-size="10.9" text-anchor="end">−4.0</text>
<text x="55.0" y="811.7" font-size="10.9" text-anchor="end">−4.5</text>
<text x="55.0" y="839.6" font-size="10.9" text-anchor="end">−5.0</text>
<text x="55.0" y="867.7" font-size="10.9" text-anchor="end">−5.5</text>
<rect x="68.7" y="20.1" width="72" height="60" rx="2.2" fill="#eaeaf2" fill-opacity="0.8" stroke="#cccccc" stroke-width="0.9"/>
<circle cx="74.3" cy="31.3" r="4.6" fill="#800080"/>
<rect x="69.7" y="45.7" width="9.2" height="9.2" fill="#0000ff"/>
<path d="M74.3 64.8L79 74.1H69.6Z" fill="#008000"/>
<text x="85.5" y="34.9" font-size="12" textLength="34.8" lengthAdjust="spacingAndGlyphs">&gt;1Gyr</text>
<text x="85.2" y="53.9" font-size="12" textLength="50" lengthAdjust="spacingAndGlyphs">0.1-1Gyr</text>
<text x="85.5" y="73.0" font-size="12" textLength="45.4" lengthAdjust="spacingAndGlyphs">&lt;0.1Gyr</text>
<g transform="translate(13.3,503.9) rotate(-90)"><text x="0" y="0" font-size="16.5" font-style="italic" textLength="24.2" lengthAdjust="spacingAndGlyphs">log</text><text x="25.0" y="2.3" font-size="12" textLength="13.4" lengthAdjust="spacingAndGlyphs">10</text><text x="43.4" y="0" font-size="15.2" textLength="8.5" lengthAdjust="spacingAndGlyphs">L</text><text x="52.4" y="2.2" font-size="11.3" font-style="italic" textLength="17.4" lengthAdjust="spacingAndGlyphs">UV</text><text x="69.4" y="0" font-size="15.2" textLength="4.4" lengthAdjust="spacingAndGlyphs">/</text><text x="74.1" y="0" font-size="15.2" textLength="8.5" lengthAdjust="spacingAndGlyphs">L</text><text x="82.6" y="2.2" font-size="11.3" font-style="italic" textLength="23.0" lengthAdjust="spacingAndGlyphs">BOL</text></g>
<g transform="translate(273.2,924.7)"><text x="0" y="0" font-size="16.5" font-style="italic" textLength="24.2" lengthAdjust="spacingAndGlyphs">log</text><text x="24.6" y="3.3" font-size="12" textLength="13.6" lengthAdjust="spacingAndGlyphs">10</text><text x="43.0" y="0" font-size="15.6" font-style="italic" textLength="10.0" lengthAdjust="spacingAndGlyphs">R</text><text x="53.8" y="0" font-size="16" font-style="italic" textLength="3.4" lengthAdjust="spacingAndGlyphs">′</text><text x="59.3" y="3.0" font-size="11.3" font-style="italic" textLength="16.4" lengthAdjust="spacingAndGlyphs">HK</text></g>
</svg></body></html>
